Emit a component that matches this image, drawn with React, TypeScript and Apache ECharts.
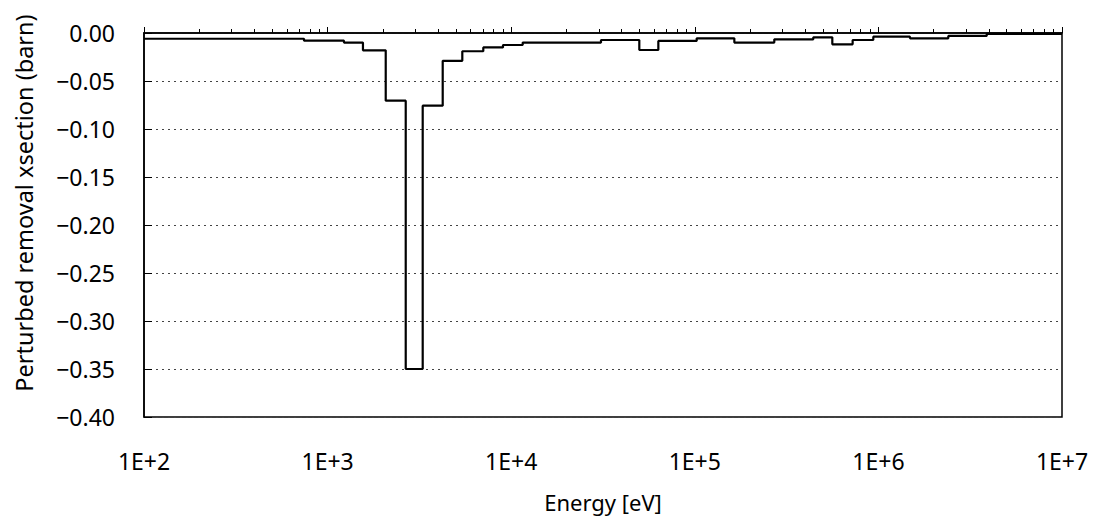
import React, { useEffect, useRef } from "react";
import * as echarts from "echarts";

// Group lower boundaries (eV) and perturbed removal xsection (barn)
const energies = [
  100, 744, 1228, 1558, 2073, 2664, 3296, 4236, 5416, 7047, 9022, 11550,
  30840, 49860, 63300, 102400, 164200, 271000, 442000, 561000, 724000,
  938000, 1486000, 2403000, 3890000, 10000000,
];
const values = [
  -0.006, -0.008, -0.01, -0.018, -0.0705, -0.35, -0.0757, -0.029, -0.019,
  -0.015, -0.0125, -0.01, -0.0073, -0.0177, -0.0083, -0.0055, -0.01,
  -0.0066, -0.0045, -0.0118, -0.0073, -0.0038, -0.0055, -0.003, -0.001,
  -0.001,
];
const yTicks = { min: -0.4, max: 0, interval: 0.05 };
const xRange = { min: 100, max: 10000000 };

const xLabel = "Energy [eV]";
const yLabel = "Perturbed removal xsection (barn)";

export default function App() {
  const ref = useRef<HTMLDivElement>(null);
  useEffect(() => {
    if (!ref.current) return;
    const chart = echarts.init(ref.current, null, { renderer: "svg" });
    const font = "Noto Sans";
    chart.setOption({
      animation: false,
      backgroundColor: "#ffffff",
      grid: {
        left: 144,
        right: 36,
        top: 33,
        bottom: 105,
        show: true,
        borderColor: "#000",
        borderWidth: 1.5,
        outerBoundsMode: "none",
        containLabel: false,
      },
      xAxis: {
        type: "log",
        logBase: 10,
        min: xRange.min,
        max: xRange.max,
        name: xLabel,
        nameLocation: "middle",
        nameGap: 74,
        nameTextStyle: { fontFamily: font, fontSize: 22, color: "#000" },
        axisLine: { show: true, lineStyle: { color: "#000", width: 1.5 } },
        axisTick: { show: true, inside: true, length: 6, lineStyle: { color: "#000" } },
        minorTick: { show: true, splitNumber: 9, length: 4, lineStyle: { color: "#000" } },
        axisLabel: {
          fontFamily: font,
          fontSize: 23,
          color: "#000",
          margin: 32,
          formatter: (v: number) => "1E+" + Math.round(Math.log10(v)),
        },
        splitLine: { show: false },
      },
      yAxis: {
        type: "value",
        min: yTicks.min,
        max: yTicks.max,
        interval: yTicks.interval,
        axisLine: { show: true, lineStyle: { color: "#000", width: 1.5 } },
        axisTick: { show: true, inside: true, length: 8, lineStyle: { color: "#000" } },
        axisLabel: {
          fontFamily: font,
          fontSize: 23,
          color: "#000",
          margin: 29,
          formatter: (v: number) => v.toFixed(2).replace("-", "\u2212"),
        },
        splitLine: { show: true, lineStyle: { color: "#444", type: [2, 4], width: 1 } },
      },
      graphic: [
        {
          type: "text",
          x: 24,
          y: 203,
          rotation: Math.PI / 2,
          style: {
            text: yLabel,
            fontFamily: font,
            fontSize: 23.5,
            fill: "#000",
            align: "center",
            verticalAlign: "middle",
          },
        },
      ],
      series: [
        {
          type: "line",
          step: "end",
          symbol: "none",
          lineStyle: { color: "#000", width: 2.2 },
          data: energies.map((e, i) => [e, values[i]]),
        },
      ],
    });
    return () => chart.dispose();
  }, []);
  return (
    <div
      ref={ref}
      style={{ position: "absolute", left: 0, top: 0, width: 1098, height: 522 }}
    />
  );
}
